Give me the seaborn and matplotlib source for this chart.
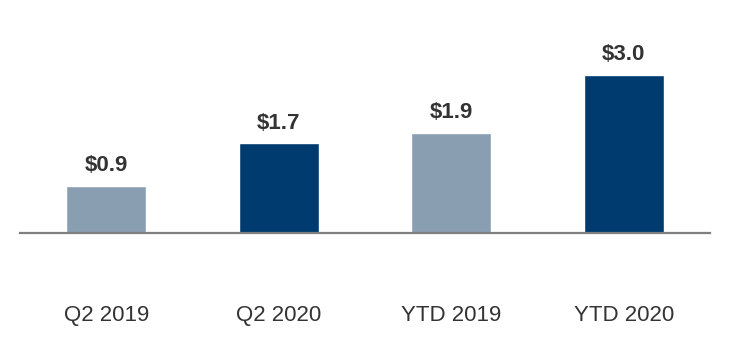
import matplotlib
matplotlib.use("Agg")
import matplotlib.pyplot as plt
import seaborn as sns
import pandas as pd

categories = ["Q2 2019", "Q2 2020", "YTD 2019", "YTD 2020"]
values = [0.9, 1.7, 1.9, 3.0]
value_labels = ["$0.9", "$1.7", "$1.9", "$3.0"]
bar_colors = ["#8a9eb2", "#003b70", "#8a9eb2", "#003b70"]

sns.set_theme(style="white")
plt.rcParams["font.family"] = ["Liberation Sans", "DejaVu Sans"]

df = pd.DataFrame({"category": categories, "value": values})

fig = plt.figure(figsize=(7.30, 3.46), dpi=100)
ax = fig.add_axes([0.0274, 0.3266, 0.9452, 0.6734])

sns.barplot(data=df, x="category", y="value", hue="category",
            palette=dict(zip(categories, bar_colors)), width=0.464,
            legend=False, ax=ax, saturation=1)

ax.set_xlim(-0.5, 3.5)
ax.set_ylim(0, 4.42)

for i, (v, lab) in enumerate(zip(values, value_labels)):
    ax.annotate(lab, xy=(i, v), xytext=(0, 7), textcoords="offset points",
                ha="center", va="bottom", fontsize=16, fontweight="bold",
                color="#333333")

for s in ["top", "left", "right"]:
    ax.spines[s].set_visible(False)
ax.spines["bottom"].set_color("#7f7f7f")
ax.spines["bottom"].set_linewidth(1.6)
ax.set_yticks([])
ax.set_xlabel("")
ax.set_ylabel("")
ax.tick_params(axis="x", length=0, pad=52, labelsize=16, labelcolor="#333333")

fig.savefig("out.png", dpi=100)
